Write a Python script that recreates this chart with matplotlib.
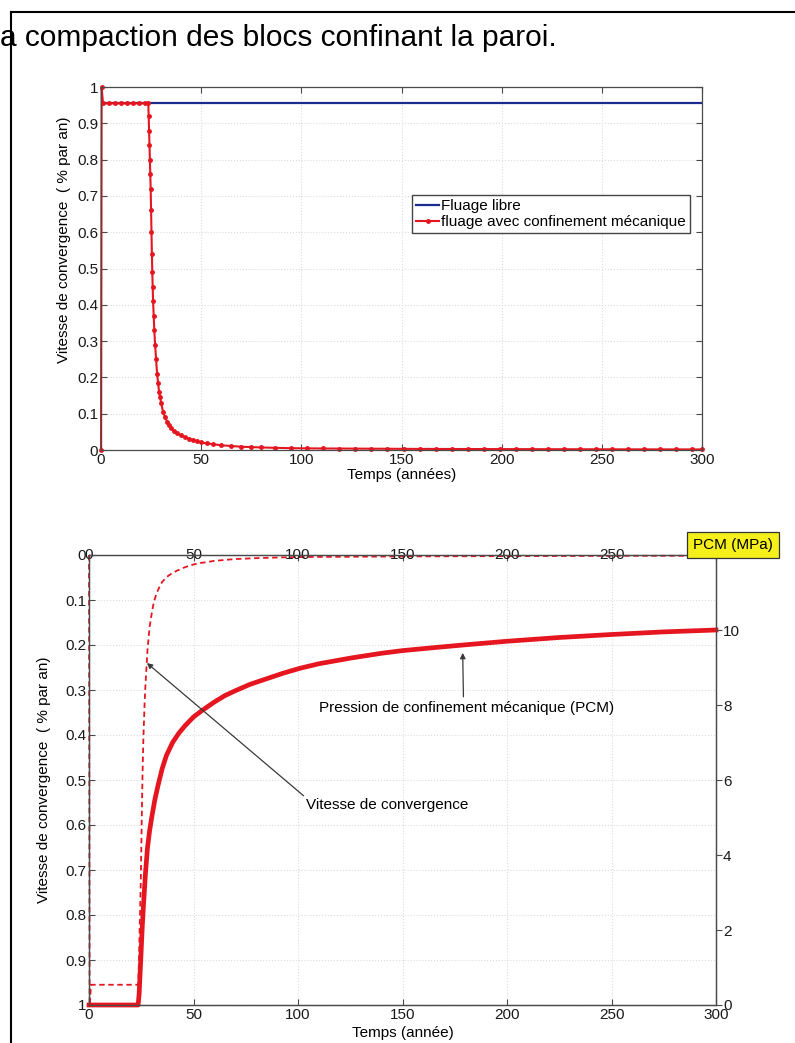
import matplotlib
matplotlib.use("Agg")
import matplotlib.pyplot as plt
from matplotlib import font_manager
from matplotlib.lines import Line2D

plt.rcParams["font.family"] = ["Liberation Sans", "DejaVu Sans"]
plt.rcParams["font.size"] = 11

# vitesse de convergence (% par an) en fonction du temps (années)
t_vit = [0, 0.3, 1, 4, 7, 10, 13, 16, 19, 22, 23.6,
         23.8, 24.0, 24.2, 24.4, 24.6, 24.8, 25.0, 25.2, 25.4, 25.6,
         25.8, 26.0, 26.3, 26.6, 27.0, 27.5, 28.0, 28.5, 29.0, 29.5,
         30, 31, 32, 33, 34, 35, 36.5, 38, 40, 42,
         44, 46, 48, 50, 53, 56, 60, 65, 70, 75,
         80, 87, 95, 103, 111, 119, 127, 135, 143, 151,
         159, 167, 175, 183, 191, 199, 207, 215, 223, 231,
         239, 247, 255, 263, 271, 279, 287, 295, 300]
vit = [0, 1.0, 0.955, 0.955, 0.955, 0.955, 0.955, 0.955, 0.955, 0.955, 0.955,
       0.92, 0.88, 0.84, 0.80, 0.76, 0.72, 0.66, 0.60, 0.54, 0.49,
       0.45, 0.41, 0.37, 0.33, 0.29, 0.25, 0.21, 0.185, 0.16, 0.145,
       0.13, 0.105, 0.09, 0.078, 0.068, 0.06, 0.052, 0.046, 0.04, 0.035,
       0.031, 0.027, 0.024, 0.021, 0.018, 0.016, 0.013, 0.011, 0.009, 0.008,
       0.007, 0.006, 0.005, 0.0045, 0.0042, 0.004, 0.0038, 0.0036, 0.0034, 0.0032,
       0.003, 0.0029, 0.0028, 0.0027, 0.0026, 0.0025, 0.0024, 0.0023, 0.0022, 0.0021,
       0.002, 0.002, 0.0019, 0.0018, 0.0018, 0.0017, 0.0017, 0.0016, 0.0016]

# fluage libre : vitesse constante
t_libre = [0, 300]
vit_libre = [0.955, 0.955]

# pression de confinement mecanique (MPa)
t_pcm = [0, 23.5, 24, 24.5, 25, 25.5, 26, 27, 28, 29, 30, 31.5, 33, 35, 37,
         40, 43, 46, 50, 54, 60, 65, 70, 77, 85, 93, 101, 110, 125, 140,
         150, 165, 179, 200, 225, 250, 275, 300]
pcm = [0, 0, 0.3, 0.9, 1.5, 2.1, 2.6, 3.5, 4.2, 4.65, 5.0, 5.47, 5.85, 6.3, 6.65,
       7.0, 7.25, 7.45, 7.68, 7.85, 8.08, 8.25, 8.38, 8.55, 8.7, 8.85, 8.98, 9.1, 9.25, 9.38,
       9.45, 9.53, 9.6, 9.7, 9.8, 9.88, 9.95, 10.0]

x_ticks = [0, 50, 100, 150, 200, 250, 300]
y_ticks = [0, 0.1, 0.2, 0.3, 0.4, 0.5, 0.6, 0.7, 0.8, 0.9, 1]
y_labels = ["0", "0.1", "0.2", "0.3", "0.4", "0.5", "0.6", "0.7", "0.8", "0.9", "1"]
pcm_ticks = [0, 2, 4, 6, 8, 10]

W, H = 795, 1043
RED = "#e5161f"
AXC = "#4a4a4a"


def box(left, top, right, bottom):
    return [left / W, 1 - bottom / H, (right - left) / W, (bottom - top) / H]


def style(ax):
    for s in ax.spines.values():
        s.set_color(AXC)
        s.set_linewidth(0.9)
    ax.tick_params(direction="in", length=4, width=0.8, color=AXC,
                   labelcolor="#1a1a1a", pad=2)


fig = plt.figure(figsize=(W / 100, H / 100), dpi=100)

# page: bord du cadre et fin de phrase
fig.add_artist(Line2D([11 / W, 11 / W], [0, 1 - 12 / H], color="black", lw=1.5,
                      transform=fig.transFigure))
fig.add_artist(Line2D([11 / W, 1], [1 - 12 / H, 1 - 12 / H], color="black", lw=1.5,
                      transform=fig.transFigure))
names = {f.name for f in font_manager.fontManager.ttflist}
if "Liberation Sans Narrow" in names:
    fig.text(0, 1 - 46 / H, "a compaction des blocs confinant la paroi.",
             family="Liberation Sans Narrow", fontsize=26, va="baseline")
else:
    fig.text(0, 1 - 46 / H, "a compaction des blocs confinant la paroi.",
             fontsize=21.5, va="baseline")

# ---- graphe du haut
ax1 = fig.add_axes(box(101, 87, 702, 450))
ax1.plot(t_libre, vit_libre, color="#1b2a8c", lw=1.6, label="Fluage libre")
ax1.plot(t_vit, vit, color=RED, lw=1.5, marker=".", ms=5, clip_on=False,
         label="fluage avec confinement mécanique")
ax1.set_xlim(0, 300)
ax1.set_ylim(0, 1)
ax1.set_xticks(x_ticks)
ax1.set_yticks(y_ticks)
ax1.set_yticklabels(y_labels)
style(ax1)
ax1.tick_params(top=True, right=True)
ax1.grid(color="#dcdcdc", ls=":", lw=0.8)
ax1.set_xlabel("Temps (années)", labelpad=1)
ax1.set_ylabel("Vitesse de convergence  ( % par an)")
ax1.yaxis.set_label_coords(-0.05, 0.58)
ax1.legend(loc="upper right", bbox_to_anchor=(0.98, 0.702), fancybox=False,
           edgecolor="#444444", framealpha=1, handlelength=1.5,
           handletextpad=0.15, borderpad=0.25, labelspacing=0.15,
           borderaxespad=0)

# ---- graphe du bas
ax2 = fig.add_axes(box(89, 555, 716, 1005))
ax2.plot(t_vit, vit, color=RED, lw=1.3, ls=(0, (3, 2)), clip_on=False)
ax2.set_xlim(0, 300)
ax2.set_ylim(1, 0)
ax2.set_xticks(x_ticks)
ax2.set_yticks(y_ticks)
ax2.set_yticklabels(y_labels)
style(ax2)
ax2.tick_params(top=True, right=True)
ax2.grid(color="#dcdcdc", ls=":", lw=0.8)
ax2.set_xlabel("Temps (année)", labelpad=3)
ax2.set_ylabel("Vitesse de convergence  ( % par an)")
ax2.yaxis.set_label_coords(-0.06, 0.5)

ax3 = ax2.twinx()
ax3.plot(t_pcm, pcm, color=RED, lw=3.4, clip_on=False)
ax3.set_ylim(0, 12)
ax3.set_yticks(pcm_ticks)
style(ax3)
ax3.tick_params(axis="y", direction="out", pad=1)
ax3.xaxis.set_visible(True)
ax3.tick_params(axis="x", top=True, labeltop=True, bottom=False,
                labelbottom=False, length=0, pad=-5)

ax3.annotate("Pression de confinement mécanique (PCM)", xy=(178.8, 9.39),
             xytext=(180.6, 7.92), ha="center", va="center",
             arrowprops=dict(arrowstyle="-|>", color="#3a3a3a", lw=0.9,
                             mutation_scale=8, relpos=(0.49, 1.0),
                             shrinkA=1, shrinkB=0))
ax3.annotate("Vitesse de convergence", xy=(27.7, 9.12),
             xytext=(104, 5.33), ha="left", va="center",
             arrowprops=dict(arrowstyle="-|>", color="#3a3a3a", lw=0.9,
                             mutation_scale=8, relpos=(0.0, 1.0),
                             shrinkA=0, shrinkB=0))

fig.text(733 / W, 1 - 545 / H, "PCM (MPa)", ha="center", va="center",
         bbox=dict(boxstyle="square,pad=0.4", facecolor="#f5ef1c",
                   edgecolor="#333333", lw=0.9))

fig.savefig("out.png", dpi=100)
